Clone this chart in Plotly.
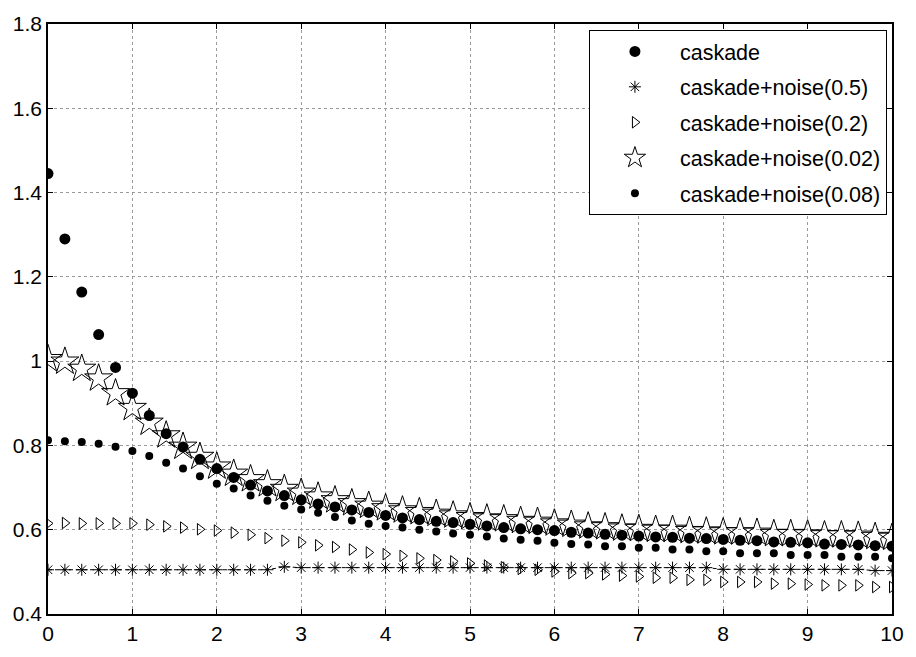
import plotly.graph_objects as go

# sample positions 0, 0.2, ..., 10
x_vals = [round(0.2 * i, 1) for i in range(51)]

caskade = [
    1.445, 1.290, 1.164, 1.063, 0.985, 0.924, 0.871, 0.828, 0.796, 0.767,
    0.745, 0.724, 0.706, 0.692, 0.681, 0.671, 0.661, 0.654, 0.647, 0.641,
    0.634, 0.628, 0.624, 0.620, 0.617, 0.613, 0.609, 0.605, 0.602, 0.600,
    0.598, 0.594, 0.592, 0.589, 0.587, 0.585, 0.583, 0.582, 0.580, 0.579,
    0.577, 0.575, 0.574, 0.571, 0.570, 0.569, 0.566, 0.565, 0.564, 0.562,
    0.561,
]

noise_05 = [
    0.505, 0.505, 0.505, 0.505, 0.505, 0.505, 0.505, 0.505, 0.505, 0.505,
    0.505, 0.505, 0.505, 0.505, 0.512, 0.510, 0.510, 0.510, 0.510, 0.510,
    0.510, 0.510, 0.510, 0.510, 0.510, 0.510, 0.510, 0.510, 0.510, 0.510,
    0.510, 0.510, 0.510, 0.510, 0.510, 0.510, 0.510, 0.510, 0.510, 0.510,
    0.506, 0.506, 0.506, 0.506, 0.506, 0.506, 0.506, 0.506, 0.506, 0.503,
    0.503,
]

noise_02 = [
    0.615, 0.616, 0.615, 0.615, 0.615, 0.615, 0.612, 0.608, 0.605, 0.601,
    0.598, 0.593, 0.588, 0.580, 0.574, 0.570, 0.563, 0.559, 0.553, 0.546,
    0.542, 0.538, 0.532, 0.528, 0.525, 0.520, 0.515, 0.511, 0.507, 0.505,
    0.501, 0.497, 0.497, 0.494, 0.491, 0.489, 0.486, 0.486, 0.481, 0.481,
    0.476, 0.476, 0.476, 0.472, 0.472, 0.470, 0.468, 0.468, 0.468, 0.464,
    0.464,
]

noise_002 = [
    1.005, 0.999, 0.982, 0.959, 0.924, 0.889, 0.854, 0.824, 0.797, 0.773,
    0.750, 0.733, 0.720, 0.708, 0.697, 0.688, 0.679, 0.670, 0.663, 0.657,
    0.651, 0.646, 0.642, 0.638, 0.634, 0.630, 0.627, 0.625, 0.621, 0.619,
    0.615, 0.612, 0.608, 0.606, 0.603, 0.602, 0.600, 0.600, 0.597, 0.596,
    0.594, 0.594, 0.593, 0.590, 0.590, 0.589, 0.587, 0.587, 0.586, 0.583,
    0.581,
]

noise_008 = [
    0.812, 0.810, 0.808, 0.804, 0.797, 0.787, 0.775, 0.759, 0.745, 0.727,
    0.709, 0.698, 0.681, 0.669, 0.657, 0.648, 0.640, 0.630, 0.622, 0.614,
    0.609, 0.605, 0.600, 0.596, 0.591, 0.588, 0.584, 0.579, 0.576, 0.574,
    0.569, 0.566, 0.565, 0.561, 0.561, 0.557, 0.557, 0.553, 0.553, 0.549,
    0.549, 0.544, 0.544, 0.544, 0.540, 0.540, 0.540, 0.536, 0.536, 0.536,
    0.532,
]

x_ticks = [0, 1, 2, 3, 4, 5, 6, 7, 8, 9, 10]
y_ticks = [0.4, 0.6, 0.8, 1.0, 1.2, 1.4, 1.6, 1.8]
y_tick_text = ["0.4", "0.6", "0.8", "1", "1.2", "1.4", "1.6", "1.8"]

FONT = "Liberation Sans, Arial, sans-serif"

fig = go.Figure()

fig.add_trace(go.Scatter(
    x=x_vals, y=caskade, mode="markers", name="caskade", legendgroup="a",
    marker=dict(symbol="circle", size=11, color="black"),
))
# dashed connecting line of the 0.5 series (kept out of the legend)
fig.add_trace(go.Scatter(
    x=x_vals, y=noise_05, mode="lines", showlegend=False, legendgroup="b",
    line=dict(color="black", width=1, dash="4px,3px"), hoverinfo="skip",
))
fig.add_trace(go.Scatter(
    x=x_vals, y=noise_05, mode="markers", name="caskade+noise(0.5)",
    legendgroup="b",
    marker=dict(symbol="asterisk-open", size=10, color="black",
                line=dict(color="black", width=1)),
))
fig.add_trace(go.Scatter(
    x=x_vals, y=noise_02, mode="markers", name="caskade+noise(0.2)",
    legendgroup="c",
    marker=dict(symbol="triangle-right-open", size=10, color="black",
                line=dict(color="black", width=1)),
))
fig.add_trace(go.Scatter(
    x=x_vals, y=noise_002, mode="markers", name="caskade+noise(0.02)",
    legendgroup="d",
    marker=dict(symbol="star-open", size=21, color="black",
                line=dict(color="black", width=1)),
))
fig.add_trace(go.Scatter(
    x=x_vals, y=noise_008, mode="markers", name="caskade+noise(0.08)",
    legendgroup="e",
    marker=dict(symbol="circle", size=8, color="black"),
))

axis_common = dict(
    showline=True, linecolor="black", linewidth=1.5, mirror="ticks",
    ticks="inside", ticklen=5, tickcolor="black", tickwidth=1,
    showgrid=True, gridcolor="#9a9a9a", gridwidth=1, griddash="dot",
    zeroline=False,
    tickfont=dict(family=FONT, size=21, color="black"),
)

fig.update_xaxes(range=[0, 10], tickvals=x_ticks, **axis_common)
fig.update_yaxes(range=[0.4, 1.8], tickvals=y_ticks, ticktext=y_tick_text,
                 **axis_common)

fig.update_layout(
    width=916, height=657,
    margin=dict(l=48, r=17, t=17, b=36),
    paper_bgcolor="white", plot_bgcolor="white",
    showlegend=True,
    legend=dict(
        x=0.994, y=0.99, xanchor="right", yanchor="top",
        bgcolor="white", bordercolor="black", borderwidth=1,
        font=dict(family=FONT, size=21.5, color="black"),
        traceorder="grouped", tracegroupgap=4.5, itemwidth=80,
    ),
)

fig.write_html("out.html")
